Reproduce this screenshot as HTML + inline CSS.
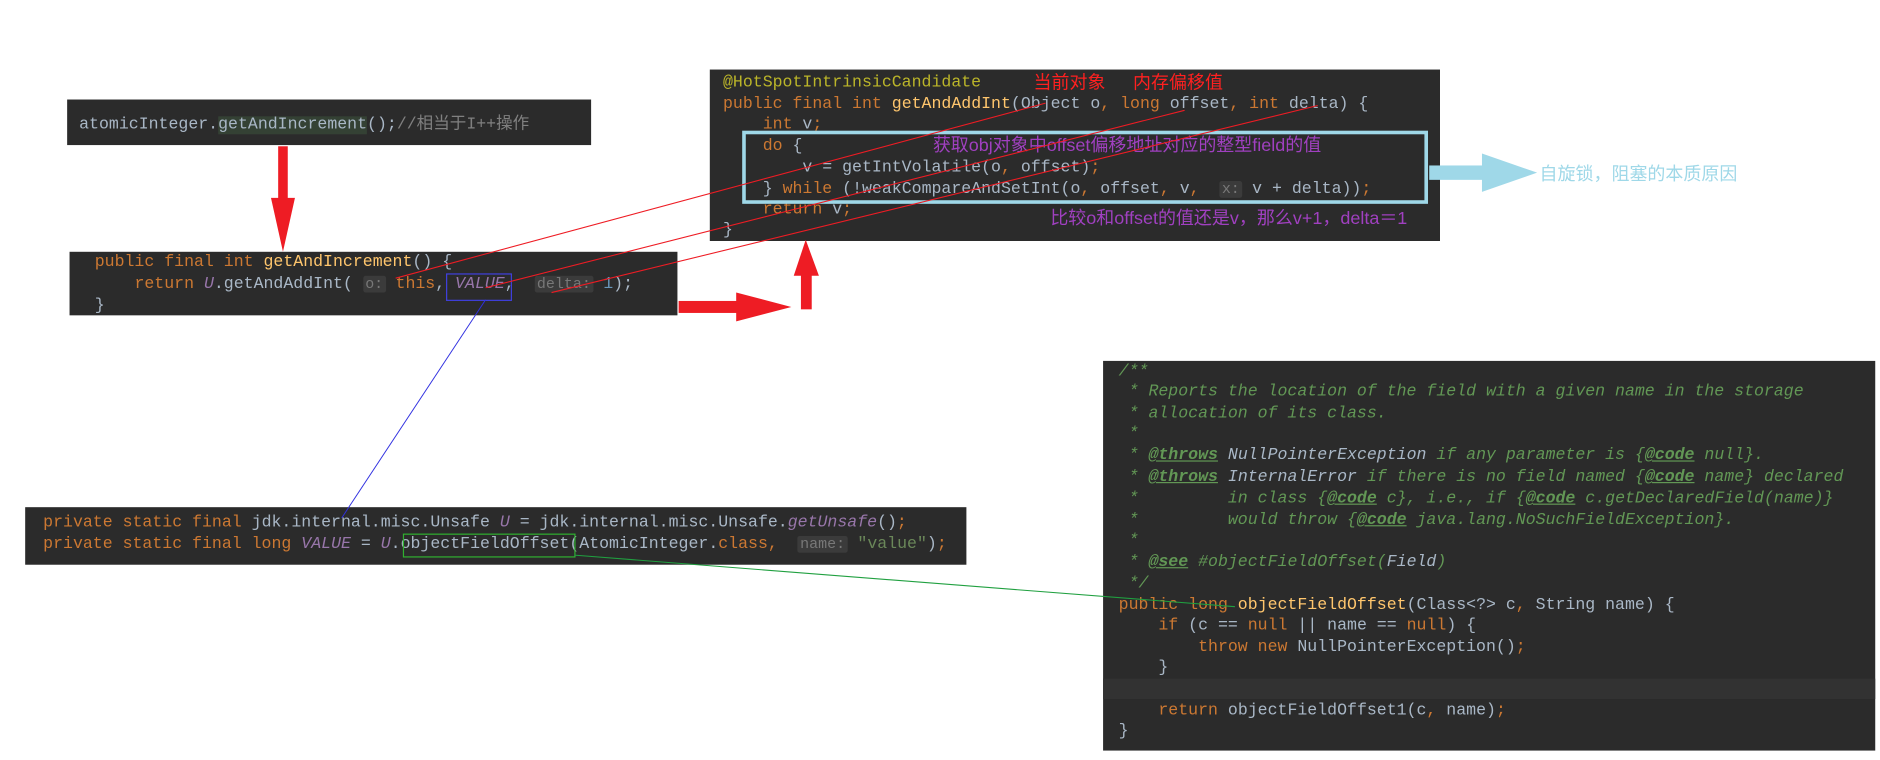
<!DOCTYPE html>
<html><head><meta charset="utf-8"><style>
html,body{margin:0;padding:0;background:#fff;width:1880px;height:760px;overflow:hidden}
#w{position:absolute;left:0;top:0;width:1568px;height:634px;transform:scale(1.199);transform-origin:0 0}
.b{position:absolute;background:#2b2b2b}
.l{position:absolute;white-space:pre;font-family:"Liberation Mono","Noto Sans CJK SC",monospace;font-size:13.8px;line-height:17px;color:#a9b7c6}
.k{color:#cc7832}.m{color:#ffc66d}.p{color:#9876aa;font-style:italic}.c{color:#629755;font-style:italic}
.t{color:#629755;font-style:italic;font-weight:bold;text-decoration:underline}
.g{color:#808080}.a{color:#bbb529}
.h{background:#3b3b3b;color:#787878;font-size:12.5px;padding:0 2px;border-radius:2px}
.cn{position:absolute;white-space:pre;font-family:"Liberation Sans","Noto Sans CJK SC",sans-serif;font-size:15px;line-height:17px}
</style></head><body><div id="w">
<div class="b" style="left:56px;top:83px;width:437px;height:38px"></div>
<div class="l" style="left:66px;top:96px">atomicInteger.<span style="background:#344134">getAndIncrement</span>();<span class="g">//相当于I++操作</span></div>

<div class="b" style="left:58px;top:210px;width:507px;height:53px"></div>
<div class="l" style="left:79px;top:211px"><span class="k">public final int </span><span class="m">getAndIncrement</span>() {</div>
<div class="l" style="left:79px;top:229px">    <span class="k">return </span><span class="p">U</span>.getAndAddInt( <span class="h">o:</span> <span class="k">this</span>, <span class="p">VALUE</span>,  <span class="h">delta:</span> <span style="color:#6897bb">1</span>);</div>
<div class="l" style="left:79px;top:247px">}</div>
<div style="position:absolute;left:372px;top:228px;width:53px;height:21px;border:1px solid #4040e0"></div>

<div class="b" style="left:592px;top:58px;width:609px;height:143px"></div>
<div class="l" style="left:603px;top:61px"><span class="a">@HotSpotIntrinsicCandidate</span></div>
<div class="l" style="left:603px;top:79px"><span class="k">public final int </span><span class="m">getAndAddInt</span>(Object o<span class="k">, long </span>offset<span class="k">, int </span>delta) {</div>
<div class="l" style="left:603px;top:96px">    <span class="k">int </span>v<span class="k">;</span></div>
<div class="l" style="left:603px;top:114px">    <span class="k">do </span>{</div>
<div class="l" style="left:603px;top:132px">        v = getIntVolatile(o<span class="k">, </span>offset)<span class="k">;</span></div>
<div class="l" style="left:603px;top:150px">    } <span class="k">while </span>(!weakCompareAndSetInt(o<span class="k">, </span>offset<span class="k">, </span>v<span class="k">, </span> <span class="h">x:</span> v + delta))<span class="k">;</span></div>
<div class="l" style="left:603px;top:167px">    <span class="k">return </span>v<span class="k">;</span></div>
<div class="l" style="left:603px;top:184px">}</div>
<div style="position:absolute;left:619px;top:109px;width:566px;height:55px;border:3px solid #9fd8e8"></div>
<div class="cn" style="left:862px;top:61px;color:#ff2020">当前对象</div>
<div class="cn" style="left:945px;top:61px;color:#ff2020">内存偏移值</div>
<div class="cn" style="left:778px;top:113px;color:#a040c0">获取obj对象中offset偏移地址对应的整型field的值</div>
<div class="cn" style="left:876px;top:174px;color:#a040c0">比较o和offset的值还是v，那么v+1，delta＝1</div>
<div class="cn" style="left:1284px;top:137px;color:#9fd8e8">自旋锁，阻塞的本质原因</div>

<div class="b" style="left:21px;top:423px;width:785px;height:48px"></div>
<div class="l" style="left:36px;top:428px"><span class="k">private static final </span>jdk.internal.misc.Unsafe <span class="p">U</span> = jdk.internal.misc.Unsafe.<span class="p">getUnsafe</span>()<span class="k">;</span></div>
<div class="l" style="left:36px;top:446px"><span class="k">private static final long </span><span class="p">VALUE</span> = <span class="p">U</span>.objectFieldOffset(AtomicInteger.<span class="k">class, </span> <span class="h">name:</span> <span style="color:#6a8759">"value"</span>)<span class="k">;</span></div>
<div style="position:absolute;left:336px;top:445px;width:142px;height:18px;border:1px solid #30b030"></div>

<div class="b" style="left:920px;top:301px;width:644px;height:325px"></div>
<div style="position:absolute;left:920px;top:566px;width:644px;height:17px;background:#323232"></div>
<div class="l" style="left:933px;top:302px"><span class="c">/**</span></div>
<div class="l" style="left:933px;top:319px"><span class="c"> * Reports the location of the field with a given name in the storage</span></div>
<div class="l" style="left:933px;top:337px"><span class="c"> * allocation of its class.</span></div>
<div class="l" style="left:933px;top:354px"><span class="c"> *</span></div>
<div class="l" style="left:933px;top:372px"><span class="c"> * </span><span class="t">@throws</span><span class="c"> <span style="color:#a9b7c6">NullPointerException</span> if any parameter is {</span><span class="t">@code</span><span class="c"> null}.</span></div>
<div class="l" style="left:933px;top:390px"><span class="c"> * </span><span class="t">@throws</span><span class="c"> <span style="color:#a9b7c6">InternalError</span> if there is no field named {</span><span class="t">@code</span><span class="c"> name} declared</span></div>
<div class="l" style="left:933px;top:408px"><span class="c"> *         in class {</span><span class="t">@code</span><span class="c"> c}, i.e., if {</span><span class="t">@code</span><span class="c"> c.getDeclaredField(name)}</span></div>
<div class="l" style="left:933px;top:426px"><span class="c"> *         would throw {</span><span class="t">@code</span><span class="c"> java.lang.NoSuchFieldException}.</span></div>
<div class="l" style="left:933px;top:443px"><span class="c"> *</span></div>
<div class="l" style="left:933px;top:461px"><span class="c"> * </span><span class="t">@see</span><span class="c"> #objectFieldOffset(<span style="color:#a9b7c6">Field</span>)</span></div>
<div class="l" style="left:933px;top:479px"><span class="c"> */</span></div>
<div class="l" style="left:933px;top:497px"><span class="k">public long </span><span class="m">objectFieldOffset</span>(Class&lt;?&gt; c<span class="k">, </span>String name) {</div>
<div class="l" style="left:933px;top:514px">    <span class="k">if </span>(c == <span class="k">null </span>|| name == <span class="k">null</span>) {</div>
<div class="l" style="left:933px;top:532px">        <span class="k">throw new </span>NullPointerException()<span class="k">;</span></div>
<div class="l" style="left:933px;top:549px">    }</div>
<div class="l" style="left:933px;top:585px">    <span class="k">return </span>objectFieldOffset1(c<span class="k">, </span>name)<span class="k">;</span></div>
<div class="l" style="left:933px;top:602px">}</div>

<svg style="position:absolute;left:0;top:0" width="1568" height="634">
<g fill="#ee1c24">
<rect x="232" y="122" width="8" height="45"/><polygon points="226,165 246,165 236,210"/>
<rect x="566" y="251" width="50" height="10"/><polygon points="614,244 614,268 660,256"/>
<rect x="668" y="228" width="9" height="30"/><polygon points="662,230 683,230 672,200"/>
</g>
<rect x="1192" y="138" width="45" height="12" fill="#9fd8e8"/><polygon points="1236,128 1236,160 1282,144" fill="#9fd8e8"/>
<g stroke="#ee1c24" stroke-width="0.9" fill="none">
<line x1="330" y1="232" x2="872" y2="86"/>
<line x1="405" y1="240" x2="988" y2="92"/>
<line x1="460" y1="244" x2="1099" y2="88"/>
</g>
<line x1="405" y1="250" x2="285" y2="432" stroke="#3030e0" stroke-width="0.8"/>
<line x1="479" y1="463" x2="1030" y2="506" stroke="#20a040" stroke-width="0.9"/>
</svg>
</div></body></html>
